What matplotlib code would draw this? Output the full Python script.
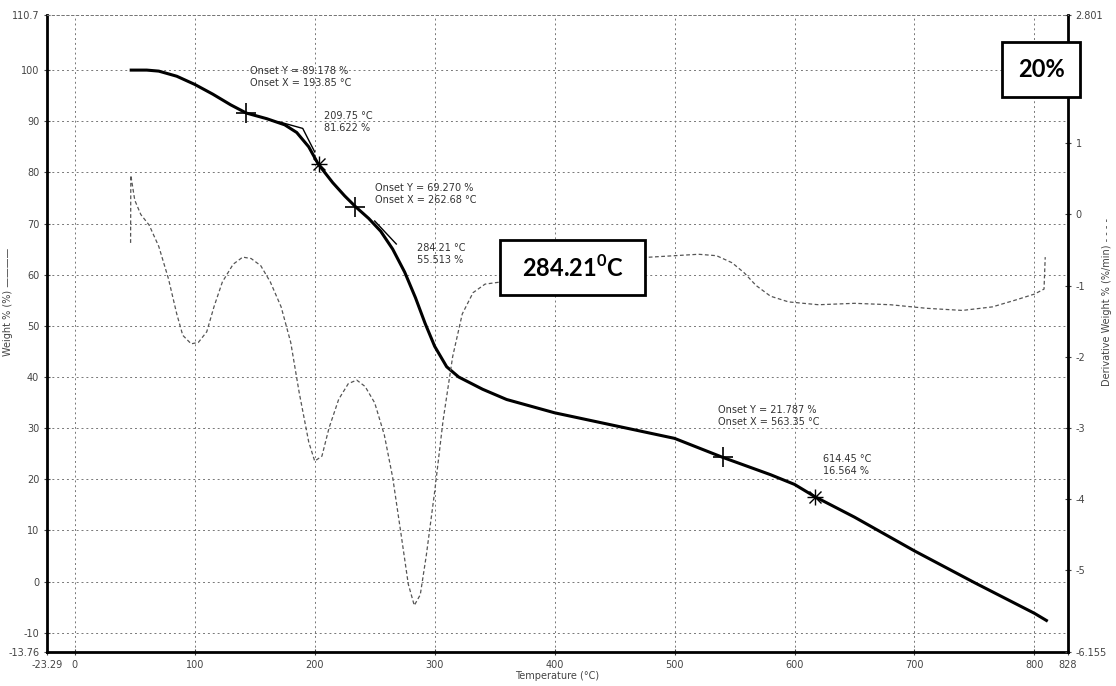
import matplotlib
matplotlib.use('Agg')
from matplotlib import pyplot as plt
from matplotlib.patches import Rectangle

# weight curve (left axis)
temp_w = [47, 60, 70, 85, 100, 115, 130, 143, 160, 175, 185, 195, 203, 215, 225, 234,
          245, 255, 265, 275, 284, 292, 300, 310, 320, 340, 360, 400, 450, 500, 540,
          560, 580, 600, 617, 650, 700, 750, 800, 810]
weight = [100, 100, 99.8, 98.8, 97.2, 95.3, 93.2, 91.6, 90.5, 89.3, 87.8, 85, 81.6, 78,
          75.4, 73.3, 71, 68.5, 65, 60.5, 55.5, 50.5, 46, 42, 40.0, 37.6, 35.6, 33.0,
          30.5, 28.0, 24.3, 22.6, 20.9, 19.0, 16.6, 12.6, 6.0, -0.2, -6.2, -7.6]

# derivative curve (right axis)
temp_d = [46.5, 46.7, 50, 55, 62, 70, 78, 85, 90, 97, 103, 110, 116, 123, 132, 140, 147,
          155, 163, 172, 180, 187, 195, 200, 206, 212, 220, 228, 235, 242, 250, 258, 265,
          272, 278, 283, 288, 293, 300, 307, 315, 323, 332, 342, 355, 380, 420, 460, 480,
          500, 520, 535, 548, 558, 568, 580, 595, 620, 650, 680, 710, 740, 765, 785, 800,
          808, 809]
deriv = [-0.4, 0.55, 0.2, 0.0, -0.15, -0.45, -0.9, -1.4, -1.7, -1.82, -1.8, -1.65, -1.3,
         -0.95, -0.7, -0.6, -0.62, -0.72, -0.95, -1.3, -1.8, -2.5, -3.2, -3.47, -3.4, -3.0,
         -2.6, -2.38, -2.33, -2.42, -2.65, -3.1, -3.7, -4.5, -5.2, -5.5, -5.35, -4.8, -3.9,
         -2.9, -2.0, -1.4, -1.1, -0.98, -0.95, -0.85, -0.7, -0.62, -0.6, -0.58, -0.56, -0.58,
         -0.68, -0.82, -1.0, -1.15, -1.23, -1.27, -1.25, -1.27, -1.32, -1.35, -1.3, -1.2,
         -1.12, -1.05, -0.6]

# marked points on the weight curve
mark_t = [143, 234, 540]
mark_w = [91.6, 73.3, 24.3]
infl_t = [203.5, 617]
infl_w = [81.6, 16.6]

# annotation texts: (T, W, text)
notes = [
    (146, 100.8, 'Onset Y = 89.178 %\nOnset X = 193.85 °C'),
    (208, 92.0, '209.75 °C\n81.622 %'),
    (250, 78.0, 'Onset Y = 69.270 %\nOnset X = 262.68 °C'),
    (285, 66.2, '284.21 °C\n55.513 %'),
    (536, 34.6, 'Onset Y = 21.787 %\nOnset X = 563.35 °C'),
    (624, 25.0, '614.45 °C\n16.564 %'),
]

xticks = [-23.29, 0, 100, 200, 300, 400, 500, 600, 700, 800, 828]
xlabels = ['-23.29', '0', '100', '200', '300', '400', '500', '600', '700', '800', '828']
wticks = [-13.76, -10, 0, 10, 20, 30, 40, 50, 60, 70, 80, 90, 100, 110.7]
wlabels = ['-13.76', '-10', '0', '10', '20', '30', '40', '50', '60', '70', '80', '90', '100', '110.7']
dticks = [-6.155, -5, -4, -3, -2, -1, 0, 1, 2.801]
dlabels = ['-6.155', '-5', '-4', '-3', '-2', '-1', '0', '1', '2.801']

fig = plt.figure(figsize=(11.16, 6.86), dpi=100)
ax = fig.add_axes([0.042, 0.0496, 0.915, 0.928])
ax2 = ax.twinx()

tc = '#444444'
ax.set_xlim(-23.29, 828)
ax.set_ylim(-13.76, 110.7)
ax2.set_ylim(-6.155, 2.801)

ax.set_xticks(xticks)
ax.set_xticklabels(xlabels)
ax.set_yticks(wticks)
ax.set_yticklabels(wlabels)
ax2.set_yticks(dticks)
ax2.set_yticklabels(dlabels)
for a in (ax, ax2):
    a.tick_params(labelsize=7, colors=tc, direction='inout', length=4, width=0.8)

# grid
for x in xticks[1:-1]:
    ax.axvline(x, color='#777777', lw=0.7, ls=(0, (2, 3)), zorder=0)
for y in wticks[1:-1]:
    ax.axhline(y, color='#777777', lw=0.7, ls=(0, (2, 3)), zorder=0)

for s in ('left', 'bottom'):
    ax.spines[s].set_linewidth(2)
ax2.spines['right'].set_linewidth(2)
ax2.spines['left'].set_visible(False)
ax2.spines['bottom'].set_visible(False)
for a in (ax, ax2):
    a.spines['top'].set_linestyle((0, (2, 3)))
    a.spines['top'].set_color('#777777')
    a.spines['top'].set_linewidth(0.7)

ax2.plot(temp_d, deriv, color='#555555', lw=0.9, ls=(0, (3, 2)))
ax.plot(temp_w, weight, color='black', lw=2.2, zorder=3)
# tangent lines
ax.plot([170, 190, 200], [89.9, 88.6, 84.0], color='black', lw=1.0, zorder=3)
ax.plot([250, 268], [70.5, 66.0], color='black', lw=1.0, zorder=3)
ax.plot(mark_t, mark_w, ls='none', marker='+', ms=14, mew=1.2, color='black', zorder=4)
ax.plot(infl_t, infl_w, ls='none', marker='x', ms=9, mew=1.0, color='black', zorder=4)
ax.plot(infl_t, infl_w, ls='none', marker='+', ms=12, mew=1.0, color='black', zorder=4)

for t, w, s in notes:
    ax.text(t, w, s, fontsize=7, color='#333333', va='top', ha='left', linespacing=1.3)

ax.set_xlabel('Temperature (°C)', fontsize=7, color=tc, labelpad=1)
ax.set_ylabel('Weight % (%) ————', fontsize=7, color=tc)
ax.yaxis.set_label_coords(-0.033, 0.55)
ax2.set_ylabel('Derivative Weight % (%/min) - - - -', fontsize=7, color=tc)
ax2.yaxis.set_label_coords(1.033, 0.55)

# boxed labels
fig.add_artist(Rectangle((0.448, 0.570), 0.130, 0.080, transform=fig.transFigure,
                         facecolor='white', edgecolor='black', lw=2, zorder=10))
fig.text(0.513, 0.610, r'284.21$^\mathregular{0}$C', fontsize=17, fontweight='bold',
         family='Lato', ha='center', va='center', zorder=11)
fig.add_artist(Rectangle((0.898, 0.8586), 0.070, 0.080, transform=fig.transFigure,
                         facecolor='white', edgecolor='black', lw=2, zorder=10))
fig.text(0.933, 0.898, '20%', fontsize=17, fontweight='bold', family='Lato',
         ha='center', va='center', zorder=11)

fig.savefig('out.png', dpi=100)
